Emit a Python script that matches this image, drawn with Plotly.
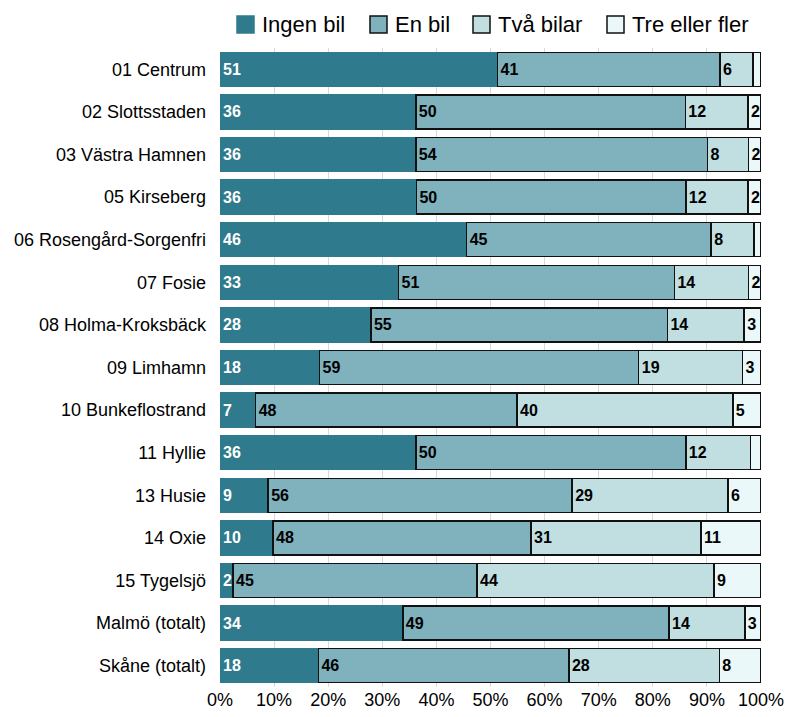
import plotly.graph_objects as go

categories = ["01 Centrum", "02 Slottsstaden", "03 Västra Hamnen", "05 Kirseberg",
              "06 Rosengård-Sorgenfri", "07 Fosie", "08 Holma-Kroksbäck", "09 Limhamn",
              "10 Bunkeflostrand", "11 Hyllie", "13 Husie", "14 Oxie", "15 Tygelsjö",
              "Malmö (totalt)", "Skåne (totalt)"]

ingen_bil = [51.3, 36.2, 36.2, 36.3, 45.6, 33.0, 27.9, 18.4, 6.6, 36.2, 8.9, 9.8, 2.4, 33.8, 18.2]
en_bil    = [41.1, 49.8, 53.9, 49.8, 45.2, 51.0, 54.8, 59.0, 48.3, 49.9, 56.2, 47.7, 45.1, 49.2, 46.3]
tva_bilar = [6.1, 11.6, 7.6, 11.5, 7.9, 13.7, 14.2, 19.2, 39.9, 12.0, 28.8, 31.4, 43.8, 14.0, 27.8]
tre_fler  = [1.5, 2.4, 2.3, 2.4, 1.3, 2.3, 3.1, 3.4, 5.2, 1.9, 6.1, 11.1, 8.7, 3.0, 7.7]

x_ticks = list(range(0, 101, 10))
x_tick_labels = [f"{v}%" for v in x_ticks]

series = [
    ("Ingen bil", ingen_bil, "#2f7a8c", "#2f7a8c", "white"),
    ("En bil", en_bil, "#7fb2bc", "#111111", "black"),
    ("Två bilar", tva_bilar, "#c1dfe1", "#111111", "black"),
    ("Tre eller fler", tre_fler, "#eaf8f9", "#111111", "black"),
]

FONT = "Liberation Sans, Arial, sans-serif"

W, H = 785, 717
L, R, T, B = 220, 761, 48, 687

fig = go.Figure()
for name, vals, color, lcolor, tcolor in series:
    texts = [str(int(round(v))) if v >= 2 else "" for v in vals]
    fig.add_trace(go.Bar(
        name=name, y=categories, x=vals, orientation="h",
        marker=dict(color=color, line=dict(color=lcolor, width=1.5)),
        text=texts, textposition="inside", insidetextanchor="start",
        textfont=dict(family=FONT, size=16, color=tcolor, weight="bold"),
        hoverinfo="skip", showlegend=False,
    ))

def px(x):
    return (x - L) / (R - L)
def py(y):
    return (B - y) / (B - T)

# Custom legend (page pixel positions)
legend_x = [237, 370, 473, 607]
for (name, vals, color, lcolor, tcolor), lx in zip(series, legend_x):
    fig.add_shape(type="rect", xref="paper", yref="paper",
                  x0=px(lx), x1=px(lx + 17), y0=py(33), y1=py(16),
                  fillcolor=color, line=dict(color=lcolor, width=1.5))
    fig.add_annotation(xref="paper", yref="paper", x=px(lx + 23), y=py(25),
                       xanchor="left", yanchor="middle", text=name, showarrow=False,
                       font=dict(family=FONT, size=22, color="black"))

fig.update_layout(
    barmode="stack",
    bargap=0.2,
    width=W, height=H,
    margin=dict(l=L, r=W - R, t=T, b=H - B, autoexpand=False),
    paper_bgcolor="white", plot_bgcolor="white",
    font=dict(family=FONT, size=18, color="black"),
    uniformtext=dict(minsize=16, mode="show"),
    showlegend=False,
    xaxis=dict(range=[0, 100], tickvals=x_ticks, ticktext=x_tick_labels,
               showgrid=True, gridcolor="#d9d9d9", gridwidth=1, zeroline=False,
               showline=False, ticks="", tickfont=dict(size=18), automargin=False),
    yaxis=dict(categoryorder="array", categoryarray=categories, autorange="reversed",
               showgrid=False, ticks="", tickfont=dict(size=18), automargin=False,
               ticklabelstandoff=13),
)

fig.write_html(
    "out.html",
    config={"displayModeBar": False, "staticPlot": True},
    post_script="document.body.style.margin='0px';"
                "document.documentElement.style.overflow='hidden';"
                "document.body.style.overflow='hidden';",
)
